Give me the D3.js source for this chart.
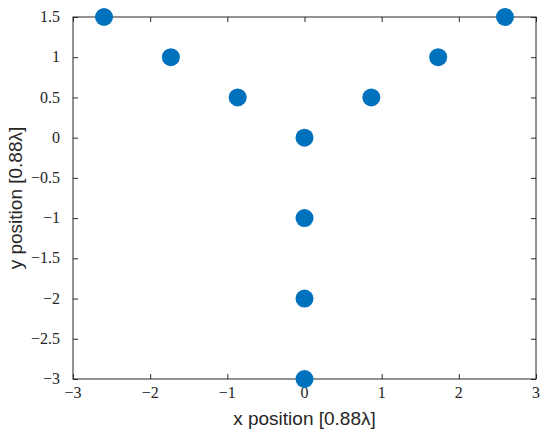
<!DOCTYPE html>
<html>
<head>
<meta charset="utf-8">
<script src="https://cdn.jsdelivr.net/npm/d3@7"></script>
<style>
  body { margin: 0; background: #fff; }
  svg { display: block; }
</style>
</head>
<body>
<div id="chart"></div>
<script>
// element positions, in units of 0.88 lambda
var xPos = [-2.598, -1.732, -0.866, 0, 0.866, 1.732, 2.598, 0, 0, 0];
var yPos = [1.5, 1, 0.5, 0, 0.5, 1, 1.5, -1, -2, -3];
var xTicks = [-3, -2, -1, 0, 1, 2, 3];
var yTicks = [-3, -2.5, -2, -1.5, -1, -0.5, 0, 0.5, 1, 1.5];

var margin = {top: 17, right: 14, bottom: 60, left: 73};
var width = 550 - margin.left - margin.right,
    height = 439 - margin.top - margin.bottom;

var svg = d3.select("#chart").append("svg")
    .attr("width", 550)
    .attr("height", 439)
  .append("g")
    .attr("transform", "translate(" + margin.left + "," + margin.top + ")");

var x = d3.scaleLinear().domain([-3, 3]).range([0, width]);
var y = d3.scaleLinear().domain([-3, 1.5]).range([height, 0]);

var fmt = function(d){ return String(d).replace("-", "\u2212"); };
var axisColor = "#262626";
var tickFont = "'Liberation Serif', 'DejaVu Serif', serif";

// tick marks only (inward) from d3 axes
function tickMarks(g){
  g.select(".domain").remove();
  g.selectAll(".tick text").remove();
  g.selectAll(".tick line").attr("stroke", axisColor);
}

svg.append("g")
  .attr("transform", "translate(0," + height + ")")
  .call(d3.axisBottom(x).tickValues(xTicks).tickSizeInner(-5).tickSizeOuter(0))
  .call(tickMarks);
svg.append("g")
  .call(d3.axisTop(x).tickValues(xTicks).tickSizeInner(-5).tickSizeOuter(0))
  .call(tickMarks);
svg.append("g")
  .call(d3.axisLeft(y).tickValues(yTicks).tickSizeInner(-5).tickSizeOuter(0))
  .call(tickMarks);
svg.append("g")
  .attr("transform", "translate(" + width + ",0)")
  .call(d3.axisRight(y).tickValues(yTicks).tickSizeInner(-5).tickSizeOuter(0))
  .call(tickMarks);

// tick labels
svg.append("g").selectAll("text")
  .data(xTicks)
  .enter().append("text")
  .attr("x", function(d){ return x(d); })
  .attr("y", height + 19)
  .style("text-anchor", "middle")
  .style("font-family", tickFont)
  .style("font-size", "16px")
  .attr("fill", "#262626")
  .text(fmt);

svg.append("g").selectAll("text")
  .data(yTicks)
  .enter().append("text")
  .attr("x", -13)
  .attr("y", function(d){ return y(d); })
  .attr("dy", "0.32em")
  .style("text-anchor", "end")
  .style("font-family", tickFont)
  .style("font-size", "16px")
  .attr("fill", "#262626")
  .text(fmt);

// box
svg.append("rect")
  .attr("x", 0).attr("y", 0)
  .attr("width", width).attr("height", height)
  .attr("fill", "none")
  .attr("stroke", axisColor)
  .attr("stroke-width", 1);

// points
svg.selectAll(".dot")
  .data(xPos.map(function(d, i){ return {x: d, y: yPos[i]}; }))
  .enter().append("circle")
  .attr("class", "dot")
  .attr("cx", function(d){ return x(d.x); })
  .attr("cy", function(d){ return y(d.y); })
  .attr("r", 9)
  .style("fill", "#0072BD");

// axis labels
svg.append("text")
  .attr("x", width / 2)
  .attr("y", height + 46)
  .style("text-anchor", "middle")
  .style("font-family", "'Liberation Sans', Arial, sans-serif")
  .style("font-size", "19px")
  .attr("fill", "#262626")
  .text("x position [0.88\u03bb]");

svg.append("text")
  .attr("transform", "rotate(-90)")
  .attr("x", -height / 2)
  .attr("y", -51)
  .style("text-anchor", "middle")
  .style("font-family", "'Liberation Sans', Arial, sans-serif")
  .style("font-size", "19px")
  .attr("fill", "#262626")
  .text("y position [0.88\u03bb]");
</script>
</body>
</html>
